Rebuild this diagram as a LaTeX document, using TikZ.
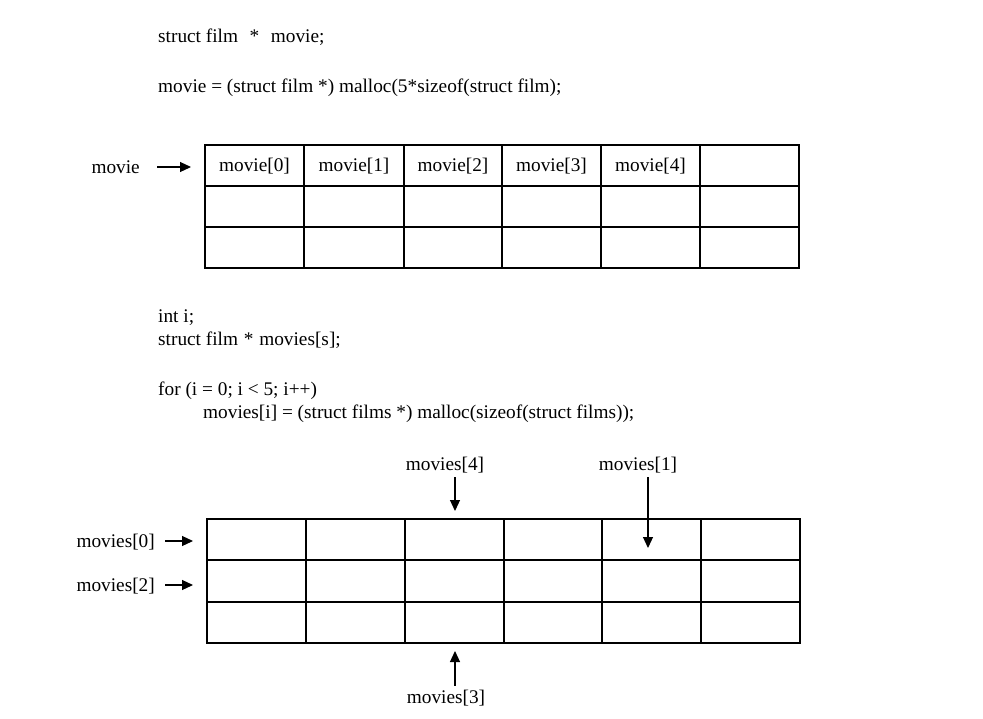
\documentclass[tikz,border=0pt]{standalone}
\usepackage{fontspec}
\setmainfont{Liberation Serif}
\usetikzlibrary{arrows.meta}
\begin{document}
\begin{tikzpicture}[x=1pt,y=-1pt,
  txt/.style={font=\fontsize{19.3}{23}\selectfont, inner sep=0pt, anchor=base west},
  lbl/.style={font=\fontsize{19.3}{23}\selectfont, inner sep=0pt},
  grid/.style={line width=2pt, line cap=rect},
  arr/.style={line width=1.2pt, -{Triangle[length=11pt,width=10pt]}}]
\useasboundingbox (0,0) rectangle (983,718);
\fill[white] (0,0) rectangle (983,718);

% code text
\node[txt] (c1) at (158,42) {struct film\hspace{0.6em}*\hspace{0.6em}movie;};
\node[txt] (c2) at (158,92) {movie = (struct film *) malloc(5*sizeof(struct film);};
\node[txt] (c3) at (158,322) {int i;};
\node[txt] (c4) at (158,345) {struct film\hspace{0.3em}*\hspace{0.3em}movies[s];};
\node[txt] (c5) at (158,395) {for (i = 0; i < 5; i++)};
\node[txt] (c6) at (203,418) {movies[i] = (struct films *) malloc(sizeof(struct films));};

% top grid
\draw[grid] (205,145) rectangle (799,268);
\foreach \x in {304,404,502,601,700} \draw[grid] (\x,145) -- (\x,268);
\foreach \y in {186,227} \draw[grid] (205,\y) -- (799,\y);
\foreach \i/\x in {0/254.5,1/354,2/453,3/551.5,4/650.5}
  \node[lbl] (m\i) at (\x,166) {movie[\i]};

\node[lbl, anchor=east] (lmovie) at (140,167) {movie};
\coordinate (a1s) at (157,167);
\coordinate (a1e) at (191,167);
\draw[arr] (a1s) -- (a1e);

% bottom grid
\draw[grid] (207,519) rectangle (800,643);
\foreach \x in {306,405,504,602,701} \draw[grid] (\x,519) -- (\x,643);
\foreach \y in {560,602} \draw[grid] (207,\y) -- (800,\y);

\node[lbl, anchor=east] (ms0) at (155,542) {movies[0]};
\node[lbl, anchor=east] (ms2) at (155,586) {movies[2]};
\coordinate (b0s) at (165,541);
\coordinate (b0e) at (193,541);
\coordinate (b2s) at (165,585);
\coordinate (b2e) at (193,585);
\draw[arr] (b0s) -- (b0e);
\draw[arr] (b2s) -- (b2e);

\node[lbl] (ms4) at (445,465) {movies[4]};
\node[lbl] (ms1) at (638,465) {movies[1]};
\node[lbl] (ms3) at (446,698) {movies[3]};
\coordinate (b4e) at (455,511);
\coordinate (b1e) at (648,548);
\coordinate (b3e) at (455,651);
\draw[arr] (ms4.south -| b4e) ++(0,4) -- (b4e);
\draw[arr] (ms1.south -| b1e) ++(0,4) -- (b1e);
\draw[arr] (ms3.north -| b3e) ++(0,-4) -- (b3e);
\end{tikzpicture}
\end{document}
